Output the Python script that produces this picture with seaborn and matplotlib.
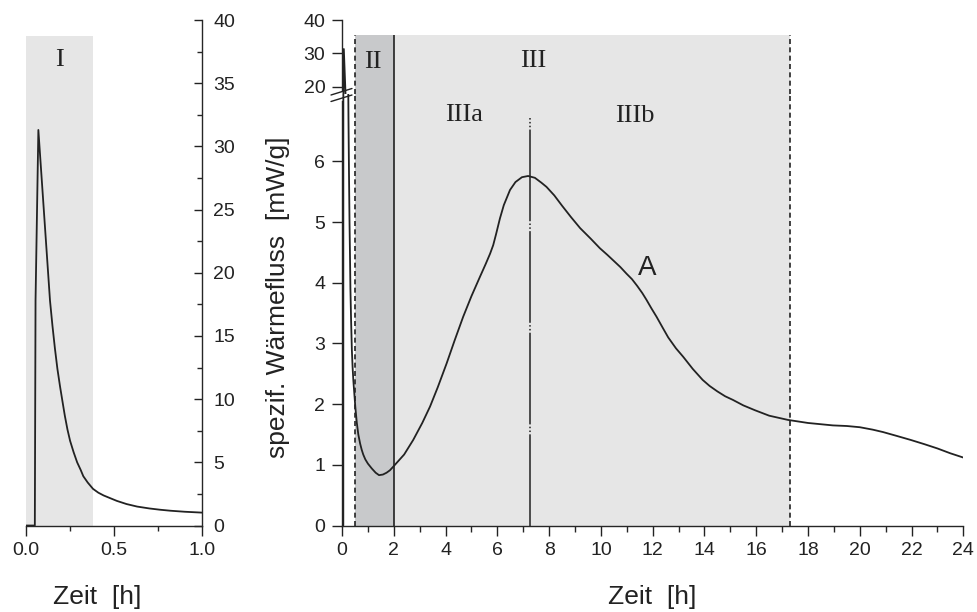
import numpy as np
import pandas as pd
import seaborn as sns
import matplotlib.pyplot as plt
from matplotlib.lines import Line2D
from matplotlib.ticker import MultipleLocator

# =========================
# Data
# =========================

zeit_h = [0.0, 0.05, 0.054, 0.07, 0.136, 0.15, 0.164, 0.178, 0.193, 0.207,
          0.22, 0.235, 0.25, 0.27, 0.29, 0.31, 0.325, 0.35, 0.38, 0.41,
          0.44, 0.48, 0.515, 0.57, 0.63, 0.70, 0.76, 0.82, 0.90, 1.0,
          1.15, 1.30, 1.43, 1.58, 1.72, 1.85, 1.98, 2.40, 2.75, 3.10,
          3.40, 3.70, 4.04, 4.35, 4.68, 5.00, 5.33, 5.55, 5.72, 5.84,
          5.95, 6.10, 6.25, 6.49, 6.70, 6.95, 7.19, 7.45, 7.70, 7.90,
          8.20, 8.50, 8.85, 9.20, 9.60, 9.96, 10.25, 10.50, 10.75, 10.99,
          11.20, 11.40, 11.60, 11.76, 11.95, 12.15, 12.40, 12.60, 12.90, 13.18,
          13.55, 13.93, 14.20, 14.50, 14.80, 15.10, 15.50, 15.95, 16.50, 17.23,
          18.00, 18.96, 19.50, 20.00, 20.50, 20.90, 21.40, 21.97, 22.50, 23.00,
          23.50, 24.00]
waermefluss = [0.0, 0.0, 17.8, 31.3, 17.8, 15.8, 14.0, 12.4, 11.0, 9.8,
               8.7, 7.6, 6.7, 5.8, 5.0, 4.4, 3.9, 3.4, 2.9, 2.6,
               2.38, 2.15, 1.95, 1.70, 1.50, 1.35, 1.25, 1.17, 1.09, 1.02,
               0.94, 0.87, 0.83, 0.84, 0.87, 0.91, 0.97, 1.17, 1.41, 1.69,
               1.96, 2.28, 2.67, 3.05, 3.44, 3.78, 4.10, 4.31, 4.48, 4.62,
               4.80, 5.06, 5.28, 5.53, 5.66, 5.74, 5.76, 5.73, 5.65, 5.58,
               5.44, 5.27, 5.08, 4.90, 4.73, 4.57, 4.46, 4.36, 4.26, 4.15,
               4.06, 3.95, 3.83, 3.72, 3.58, 3.44, 3.25, 3.10, 2.92, 2.78,
               2.58, 2.40, 2.30, 2.21, 2.13, 2.07, 1.98, 1.90, 1.81, 1.74,
               1.69, 1.65, 1.64, 1.62, 1.58, 1.54, 1.48, 1.41, 1.34, 1.27,
               1.19, 1.12]

# phase limits [h]
phase_I_end = 0.38
phase_II_start = 0.5
phase_II_end = 2.0
peak_zeit = 7.25
phase_III_end = 17.3

# =========================
# Style
# =========================

sns.set_theme(style="ticks")
plt.rcParams['font.family'] = ['Liberation Sans', 'DejaVu Sans']
plt.rcParams['axes.linewidth'] = 1.0

light = "#e6e6e6"
dark = "#c8c9cb"
ink = "#222222"
serif = ['Liberation Serif', 'DejaVu Serif']

df = pd.DataFrame({"Zeit": zeit_h, "Fluss": waermefluss})

fig = plt.figure(figsize=(9.78, 6.12), dpi=100)
ax_l = fig.add_axes([0.0266, 0.1413, 0.1803, 0.826])
ax_lo = fig.add_axes([0.3497, 0.1413, 0.6353, 0.705])
ax_up = fig.add_axes([0.3497, 0.8464, 0.6353, 0.1209])
for ax in (ax_l, ax_lo, ax_up):
    ax.set_facecolor("none")

# =========================
# Left panel (0 - 1 h)
# =========================

ax_l.fill_between([0, phase_I_end], 0, 38.7, color=light, lw=0, zorder=0)
sns.lineplot(data=df, x="Zeit", y="Fluss", ax=ax_l, color=ink, lw=1.3,
             estimator=None, sort=False, legend=False)
ax_l.set_xlim(0, 1)
ax_l.set_ylim(0, 40)
sns.despine(ax=ax_l, top=True, right=False, left=True, bottom=False)
ax_l.yaxis.tick_right()
ax_l.spines['right'].set_bounds(0, 40)
ax_l.xaxis.set_major_locator(MultipleLocator(0.5))
ax_l.xaxis.set_minor_locator(MultipleLocator(0.25))
ax_l.yaxis.set_major_locator(MultipleLocator(5))
ax_l.yaxis.set_minor_locator(MultipleLocator(2.5))
ax_l.xaxis.set_major_formatter(plt.FormatStrFormatter('%.1f'))
ax_l.tick_params(axis='y', which='major', direction='in', length=6, width=1,
                 pad=8, labelsize=14, colors=ink)
ax_l.tick_params(axis='y', which='minor', direction='in', length=3.5, width=1)
ax_l.tick_params(axis='x', which='major', direction='out', length=7, width=1,
                 pad=5, labelsize=14, colors=ink)
ax_l.tick_params(axis='x', which='minor', direction='out', length=3.5, width=1)
ax_l.set_xlabel("")
ax_l.set_ylabel("")
ax_l.text(0.187, 36.8, "I", family=serif, fontsize=19, ha='center', va='center', color=ink)

# =========================
# Right panel (0 - 24 h), broken y axis
# =========================

lo_top = 7.11
up_bottom = 17.8

for ax, y0, y1 in ((ax_lo, 0, lo_top), (ax_up, up_bottom, 35.5)):
    ax.fill_between([phase_II_start, phase_III_end], y0, y1, color=light, lw=0, zorder=0)
    ax.fill_between([phase_II_start, phase_II_end], y0, y1, color=dark, lw=0, zorder=0)
    ax.vlines([phase_II_start, phase_III_end], y0, y1, colors=ink, lw=1.2,
              linestyles=(0, (3, 2)), zorder=1, clip_on=False)
    ax.vlines(phase_II_end, y0, y1, colors=ink, lw=1.2, zorder=1, clip_on=False)
    sns.lineplot(data=df, x="Zeit", y="Fluss", ax=ax, color=ink, lw=1.3,
                 estimator=None, sort=False, legend=False, zorder=3)
    ax.set_xlim(0, 24)
    ax.set_xlabel("")
    ax.set_ylabel("")

ax_lo.vlines(peak_zeit, 0, 6.72, colors=ink, lw=1.1,
             linestyles=(0, (60, 1.5, 1, 1.5, 1, 1.5)), zorder=2)

ax_lo.set_ylim(0, lo_top)
sns.despine(ax=ax_lo)
ax_lo.spines['left'].set_bounds(0, 7.0)
ax_lo.xaxis.set_major_locator(MultipleLocator(2))
ax_lo.xaxis.set_minor_locator(MultipleLocator(1))
ax_lo.set_yticks([0, 1, 2, 3, 4, 5, 6])
ax_lo.tick_params(axis='both', which='major', direction='out', length=7, width=1,
                  pad=5, labelsize=14, colors=ink)
ax_lo.tick_params(axis='x', which='minor', direction='out', length=4, width=1)

ax_up.set_ylim(up_bottom, 40)
sns.despine(ax=ax_up, bottom=True)
ax_up.spines['left'].set_bounds(19, 40)
ax_up.set_yticks([20, 30, 40])
ax_up.set_xticks([])
ax_up.tick_params(axis='y', which='major', direction='out', length=7, width=1,
                  pad=5, labelsize=14, colors=ink)

# phase labels
ax_up.text(1.21, 27.3, "II", family=serif, fontsize=19, ha='center', va='center', color=ink)
ax_up.text(7.39, 27.8, "III", family=serif, fontsize=19, ha='center', va='center', color=ink)
ax_lo.text(4.70, 6.77, "IIIa", family=serif, fontsize=19, ha='center', va='center', color=ink)
ax_lo.text(11.32, 6.75, "IIIb", family=serif, fontsize=19, ha='center', va='center', color=ink)
ax_lo.text(11.79, 4.25, "A", fontsize=20, ha='center', va='center', color=ink)

# axis break marks
W, H = 978, 612
for y in (95.0, 101.5):
    fig.add_artist(Line2D([331 / W, 352 / W], [1 - y / H, 1 - (y - 6.5) / H],
                          transform=fig.transFigure, color=ink, lw=1.0))

# axis labels
fig.text(278 / W, 1 - 297 / H, "spezif. Wärmefluss  [mW/g]", rotation=90,
         ha='center', va='center', fontsize=19, color=ink)
fig.text(97 / W, 1 - 597 / H, "Zeit  [h]", ha='center', va='center', fontsize=19, color=ink)
fig.text(652 / W, 1 - 597 / H, "Zeit  [h]", ha='center', va='center', fontsize=19, color=ink)

fig.savefig("out.png", dpi=100)
